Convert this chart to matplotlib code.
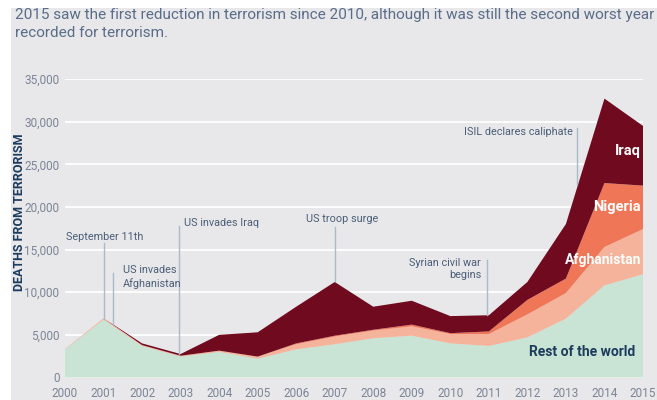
import numpy as np
import matplotlib.pyplot as plt

years = np.arange(2000, 2016)
rest_of_world = [3300, 6800, 3700, 2450, 3000, 2200, 3300, 3900, 4600, 4900, 4000, 3700, 4700, 6900, 10800, 12100]
afghanistan = [50, 150, 100, 100, 150, 250, 600, 900, 900, 1100, 1100, 1400, 2700, 3000, 4500, 5300]
nigeria = [0, 0, 0, 0, 0, 0, 100, 100, 100, 200, 100, 300, 1700, 1700, 7500, 5100]
iraq = [0, 0, 200, 200, 1850, 2850, 4300, 6300, 2700, 2800, 2000, 1900, 2100, 6400, 9900, 7000]

series_names = ['Rest of the world', 'Afghanistan', 'Nigeria', 'Iraq']
series_colors = ['#c9e3d4', '#f6b39b', '#ef7657', '#6f0a1f']

# events: (text, text x, text y, ha, line x, line top, line bottom)
events = [
    ('September 11th', 2001.03, 16500, 'center', 2001.0, 15800, 6900),
    ('US invades\nAfghanistan', 2001.5, 11800, 'left', 2001.25, 12200, 6300),
    ('US invades Iraq', 2003.1, 18100, 'left', 2002.97, 17800, 2700),
    ('US troop surge', 2006.25, 18550, 'left', 2007.0, 17700, 11300),
    ('Syrian civil war\nbegins', 2010.8, 12700, 'right', 2010.94, 13800, 7300),
    ('ISIL declares caliphate', 2013.18, 28800, 'right', 2013.3, 29200, 22700),
]

font = ['Roboto', 'DejaVu Sans']
bg = '#e8e8ea'

fig = plt.figure(figsize=(6.57, 4.0), dpi=100, facecolor='white')
# grey panel with a thin white margin on the top and left
fig.patches.append(plt.Rectangle((11 / 657, 0), 1, 1 - 8 / 400, transform=fig.transFigure,
                                 facecolor=bg, edgecolor='none', zorder=-10))

ax = fig.add_axes([65 / 657, 22.5 / 400, 578 / 657, 298.5 / 400])
ax.set_facecolor(bg)

ax.stackplot(years, rest_of_world, afghanistan, nigeria, iraq,
             colors=series_colors, labels=series_names, linewidth=0, zorder=2)

ax.set_xlim(2000, 2015)
ax.set_ylim(0, 35000)
ax.set_xticks(years)
ax.set_yticks(np.arange(0, 35001, 5000))
ax.set_yticklabels(['0' if v == 0 else f'{v:,}' for v in range(0, 35001, 5000)])
ax.grid(axis='y', color='white', linewidth=1.3, zorder=1)
ax.set_axisbelow(True)
for s in ax.spines.values():
    s.set_visible(False)
ax.tick_params(axis='both', length=0, labelcolor='#7b8595', labelsize=8.5)
ax.tick_params(axis='x', pad=6.5)
ax.tick_params(axis='y', pad=4)
for lab in ax.get_xticklabels() + ax.get_yticklabels():
    lab.set_family(font)

# event markers
for text, tx, ty, ha, lx, ytop, ybot in events:
    ax.plot([lx, lx], [ybot, ytop], color='#a9bac8', linewidth=1.0, zorder=3)
    ax.text(tx, ty, text, ha=ha, va='center', fontsize=7.8, color='#4b5e77',
            family=font, linespacing=1.3, zorder=4)

# series labels
ax.text(2014.95, 26600, 'Iraq', ha='right', va='center', fontsize=10.5,
        fontweight='bold', color='white', family=font, zorder=4)
ax.text(2014.95, 20000, 'Nigeria', ha='right', va='center', fontsize=10.5,
        fontweight='bold', color='white', family=font, zorder=4)
ax.text(2014.95, 13800, 'Afghanistan', ha='right', va='center', fontsize=10,
        fontweight='bold', color='white', family=font, zorder=4)
ax.text(2014.8, 2950, 'Rest of the world', ha='right', va='center', fontsize=10,
        fontweight='bold', color='#1d3b5c', family=font, zorder=4)

fig.text(20 / 657, 1 - 212 / 400, 'DEATHS FROM TERRORISM', rotation=90,
         ha='center', va='center', fontsize=9, fontweight='bold',
         color='#1d3b5c', family=font)

fig.text(15 / 657, 1 - 8 / 400,
         '2015 saw the first reduction in terrorism since 2010, although it was still the second worst year\n'
         'recorded for terrorism.',
         ha='left', va='top', fontsize=11, color='#5a6c87', family=font, linespacing=1.35)

fig.savefig('out.png', dpi=100, facecolor=fig.get_facecolor())
